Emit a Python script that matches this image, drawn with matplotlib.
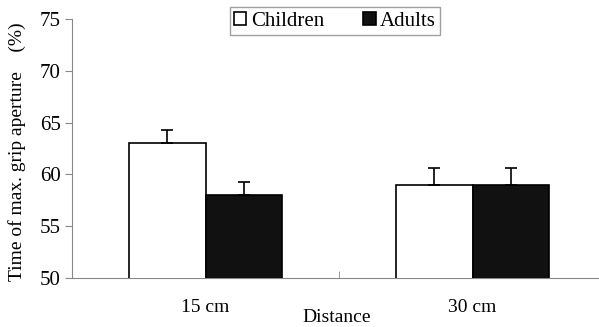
import matplotlib
matplotlib.use("Agg")
import matplotlib.pyplot as plt
import numpy as np

categories = ["15 cm", "30 cm"]
groups = ["Children", "Adults"]
children = [63.0, 59.0]
adults = [58.0, 59.0]
children_err = [1.3, 1.6]
adults_err = [1.3, 1.6]
yticks = [50, 55, 60, 65, 70, 75]

plt.rcParams['font.family'] = ['Liberation Serif', 'DejaVu Serif']

fig = plt.figure(figsize=(5.99, 3.27), dpi=100)
ax = fig.add_axes([72/599, 1-278/327, (606-72)/599, (278-19)/327])

x = np.arange(len(categories))
w = 0.2865
ax.bar(x - w/2, children, w, bottom=0, color='white', edgecolor='black', linewidth=1.2,
       yerr=[[0]*2, children_err], error_kw=dict(ecolor='black', elinewidth=1.2, capsize=4, capthick=1.2),
       label=groups[0], zorder=3)
ax.bar(x + w/2, adults, w, color='#111111', edgecolor='black', linewidth=1.2,
       yerr=[[0]*2, adults_err], error_kw=dict(ecolor='black', elinewidth=1.2, capsize=4, capthick=1.2),
       label=groups[1], zorder=3)

ax.set_ylim(50, 75)
ax.set_xlim(-0.5, 1.5)
ax.set_yticks(yticks)
ax.set_xticks(x)
ax.set_xticklabels(categories, fontsize=14)
ax.set_xticks([0.5], minor=True)
ax.tick_params(axis='x', which='major', length=0, pad=15)
ax.tick_params(axis='x', which='minor', length=5, direction='in', color='#888888')
ax.tick_params(axis='y', labelsize=15, length=5, color='#888888', pad=3)

for s in ['top', 'right']:
    ax.spines[s].set_visible(False)
ax.spines['left'].set_color('#888888')
ax.spines['bottom'].set_color('#888888')
ax.spines['bottom'].set_linestyle((0, (2, 1)))

ax.set_ylabel("Time of max. grip aperture    (%)", fontsize=14)
ax.yaxis.label.set_va('center')
ax.yaxis.set_label_coords(-(72-17)/534, (278-152)/259)
ax.set_xlabel("Distance", fontsize=14)
ax.xaxis.label.set_va('center')
ax.xaxis.set_label_coords((337-72)/(606-72), -(318-278)/259)

leg = ax.legend(loc='upper center', bbox_to_anchor=((335-72)/(606-72), 1.085), ncol=2,
                fontsize=15, frameon=True, fancybox=False, edgecolor='#888888',
                handlelength=0.6, handleheight=0.6, handletextpad=0.2, columnspacing=1.9,
                borderpad=0.2)
leg.get_frame().set_linewidth(1)

fig.savefig("out.png", dpi=100)
